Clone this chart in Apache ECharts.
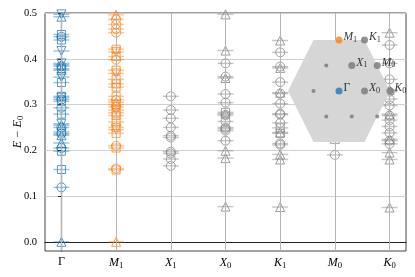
<!DOCTYPE html>
<html><head><meta charset="utf-8">
<script src="https://cdn.jsdelivr.net/npm/echarts@6/dist/echarts.min.js"></script>
<style>html,body{margin:0;padding:0;background:#fff}#c{width:415px;height:277px}</style>
</head><body><div id="c"></div>
<script>
// ---- data ----
const kpoints = ['Γ','M1','X1','X0','K1','M0','K0'];
const yTicks = [0, 0.1, 0.2, 0.3, 0.4, 0.5];
// levels: [irrep marker code, E - E0]   o circle, ^ triangle up, v triangle down, s square
const levelsGamma = [['v',0.497],['^',0.492],['s',0.453],['o',0.448],['s',0.441],['v',0.417],
  ['v',0.390],['^',0.387],['o',0.384],['s',0.378],['^',0.375],['v',0.360],['s',0.348],
  ['s',0.318],['v',0.315],['o',0.311],['s',0.307],['o',0.293],['s',0.279],
  ['v',0.258],['^',0.255],['o',0.250],['s',0.240],['o',0.236],['^',0.233],
  ['^',0.216],['o',0.205],['s',0.198],['s',0.158],['o',0.119],['^',0.0]];
const levelsM1 = [['^',0.496],['o',0.486],['o',0.475],['o',0.465],['o',0.457],
  ['s',0.421],['v',0.415],['s',0.405],['o',0.398],
  ['s',0.375],['v',0.368],['s',0.355],['s',0.345],['s',0.338],
  ['s',0.318],['o',0.310],['^',0.305],['s',0.300],['o',0.295],['v',0.288],['s',0.282],['s',0.276],
  ['s',0.262],['s',0.250],['v',0.245],['s',0.237],['o',0.210],['s',0.205],['o',0.160],['s',0.157],['^',0.0]];
const levelsX1 = [['o',0.318],['o',0.288],['o',0.270],['o',0.250],['o',0.232],['o',0.228],
  ['o',0.197],['o',0.193],['o',0.181],['o',0.166]];
const levelsX0 = [['^',0.497],['^',0.418],['o',0.390],['o',0.361],['^',0.358],['o',0.323],['o',0.304],
  ['s',0.283],['^',0.280],['o',0.277],['o',0.263],['o',0.250],['o',0.247],['o',0.243],['o',0.221],
  ['^',0.199],['^',0.183],['^',0.077]];
const levelsK1 = [['^',0.440],['o',0.414],['o',0.383],['^',0.380],['o',0.349],['^',0.326],['o',0.324],
  ['o',0.302],['o',0.280],['o',0.278],['o',0.260],['s',0.249],['^',0.239],['s',0.237],['o',0.215],['o',0.212],
  ['^',0.191],['^',0.180],['^',0.076]];
const levelsM0 = [['^',0.225],['o',0.190]];
const levelsK0 = [['^',0.457],['o',0.430],['o',0.390],['o',0.355],['^',0.332],['o',0.328],['o',0.312],['o',0.298],
  ['^',0.279],['o',0.276],['o',0.266],['o',0.252],['o',0.238],['^',0.224],['o',0.221],['o',0.214],
  ['^',0.195],['^',0.180],['^',0.075]];
const columns = [levelsGamma, levelsM1, levelsX1, levelsX0, levelsK1, levelsM0, levelsK0];

// inset: Brillouin zone sketch
const bzNames = ['M1','K1','X1','M0','Γ','X0','K0'];
const bzX = [0, 1, 0.5, 1.5, 0, 1, 2];
const bzY = [2, 2, 1, 1, 0, 0, 0];
const smallX = [-1, -0.5, -0.5, 0.5, 1.5];
const smallY = [0, 1, -1, -1, -1];
const hexX = [2, 1, -1, -2, -1, 1];
const hexY = [0, 2, 2, 0, -2, -2];

// ---- styling ----
const BLUE = '#1f77b4', ORANGE = '#ff7f0e', GRAY = '#808080';
const colColor = i => i === 0 ? BLUE : (i === 1 ? ORANGE : GRAY);
const FONT = 'Liberation Serif';
function rich(n) {
  if (n === 'Γ') return '{u|Γ}';
  return '{i|' + n[0] + '}' + (n.length > 1 ? '{s|' + n.slice(1) + '}' : '');
}
const richStyles = (fs) => ({
  u: {fontFamily: FONT, fontSize: fs, color: '#000'},
  i: {fontFamily: FONT, fontSize: fs, fontStyle: 'italic', color: '#000'},
  s: {fontFamily: FONT, fontSize: fs * 0.72, color: '#000', padding: [fs * 0.45, 0, 0, 0]}
});
const shapeSym = {o: ['circle', 0, 9], '^': ['triangle', 0, 9], v: ['triangle', 180, 9], s: ['rect', 0, 8]};

const series = [];
// vertical guide lines at each k-point
series.push({
  type: 'scatter', data: [], z: 1, silent: true,
  markLine: {silent: true, symbol: 'none', label: {show: false},
    lineStyle: {color: '#b5b5b5', width: 1, type: 'solid'},
    data: kpoints.map((_, i) => ({xAxis: i}))}
});
columns.forEach((lv, i) => {
  const c = colColor(i);
  series.push({
    type: 'scatter', z: 2, silent: true, symbol: 'rect', symbolSize: [16, 1.4],
    itemStyle: {color: c, opacity: 0.45},
    data: lv.map(d => [i, d[1]])
  });
  Object.keys(shapeSym).forEach(k => {
    const pts = lv.filter(d => d[0] === k).map(d => [i, d[1]]);
    if (!pts.length) return;
    const [sym, rot, sz] = shapeSym[k];
    series.push({
      type: 'scatter', z: 3, silent: true, symbol: sym, symbolRotate: rot, symbolSize: sz,
      itemStyle: {color: 'rgba(0,0,0,0)', borderColor: c, borderWidth: 1, opacity: 0.75},
      data: pts
    });
  });
});
// inset hexagon
series.push({
  type: 'custom', xAxisIndex: 1, yAxisIndex: 1, z: 10, silent: true, clip: false,
  data: [[0, 0]],
  renderItem: (params, api) => ({
    type: 'polygon',
    shape: {points: hexX.map((x, j) => api.coord([x, hexY[j]]))},
    style: {fill: '#d6d6d6', stroke: 'none'}
  })
});
series.push({
  type: 'scatter', xAxisIndex: 1, yAxisIndex: 1, z: 11, silent: true, symbolSize: 4,
  itemStyle: {color: '#777'},
  data: smallX.map((x, j) => [x, smallY[j]])
});
series.push({
  type: 'scatter', xAxisIndex: 1, yAxisIndex: 1, z: 12, silent: true, symbolSize: 7,
  data: bzNames.map((n, j) => ({
    value: [bzX[j], bzY[j]],
    itemStyle: {color: n === 'Γ' ? BLUE : (n === 'M1' ? ORANGE : '#777')},
    label: {show: true, position: 'right', distance: 1, offset: [0, -3],
      formatter: rich(n), rich: richStyles(11.5)}
  }))
});

const chart = echarts.init(document.getElementById('c'), null, {renderer: 'canvas'});
chart.setOption({
  animation: false,
  backgroundColor: '#fff',
  grid: [
    {left: 45, right: 9, top: 13, bottom: 26, show: true, borderColor: '#444', borderWidth: 1,
      containLabel: false, outerBoundsMode: 'none'},
    {left: 288, top: 40, width: 102, height: 102, show: false, outerBoundsMode: 'none'}
  ],
  xAxis: [
    {type: 'value', gridIndex: 0, min: -0.3, max: 6.3,
      axisLine: {show: true, lineStyle: {color: '#222', width: 1.2}},
      axisTick: {show: true, length: 3.5, customValues: kpoints.map((_, i) => i), lineStyle: {color: '#222'}},
      axisLabel: {show: true, margin: 5, customValues: kpoints.map((_, i) => i),
        formatter: v => rich(kpoints[Math.round(v)]), rich: richStyles(12)},
      splitLine: {show: false}},
    {type: 'value', gridIndex: 1, min: -2, max: 2, show: false}
  ],
  yAxis: [
    {type: 'value', gridIndex: 0, min: -0.02, max: 0.5,
      axisLine: {show: true, lineStyle: {color: '#222', width: 1.2}},
      axisTick: {show: true, length: 3.5, customValues: yTicks, lineStyle: {color: '#222'}},
      axisLabel: {show: true, margin: 8, customValues: yTicks, formatter: v => v.toFixed(1),
        fontFamily: FONT, fontSize: 10.5, color: '#000'},
      splitLine: {show: true, lineStyle: {color: '#d0d0d0', width: 1}},
      name: '{i|E} {u|−} {i|E}{s|0}', nameLocation: 'middle', nameGap: 20, nameMoveOverlap: false,
      nameTextStyle: {rich: richStyles(12)}},
    {type: 'value', gridIndex: 1, min: -2, max: 2, show: false}
  ],
  series: series
});
</script></body></html>
